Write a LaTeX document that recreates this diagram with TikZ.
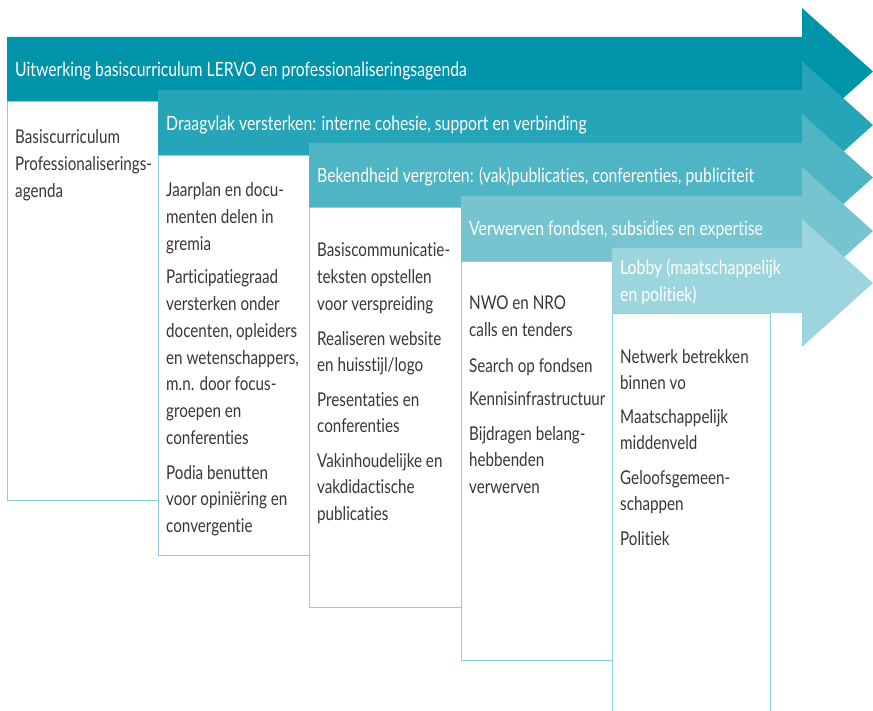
\documentclass[tikz,border=0pt]{standalone}
\usepackage{fontspec}
\setmainfont{Lato}[FakeStretch=0.8,Ligatures={NoCommon,NoDiscretionary}]
\definecolor{bA}{RGB}{0,148,170}
\definecolor{bB}{RGB}{38,164,184}
\definecolor{bC}{RGB}{79,180,196}
\definecolor{bD}{RGB}{118,196,208}
\definecolor{bE}{RGB}{157,213,222}
\definecolor{edge}{RGB}{140,207,218}
\definecolor{txt}{RGB}{55,55,55}
\tikzset{
  body/.style={inner sep=0pt, anchor=base west, text=txt, font=\fontsize{19}{26.7}\selectfont},
  head/.style={inner sep=0pt, anchor=base west, text=white, font=\fontsize{19.7}{27}\selectfont},
  boxline/.style={draw=edge, line width=0.9pt, fill=white},
}
\newcommand\para[4]{%
  \foreach \t [count=\i from 0] in {#4} {
    \node[body] (#1-\i) at (#2, #3+\i*26.7) {\t};
  }%
}
% banner: colour, left x, top y, bottom y
\newcommand\banner[4]{%
  \fill[#1] (#2,#3) -- (802,#3) -- (802,#3-29) -- (873,{(#3+#4)/2+2.5}) -- (802,#4+34) -- (802,#4) -- (#2,#4) -- cycle;
}
\begin{document}
\begin{tikzpicture}[x=1pt,y=-1pt]
\useasboundingbox (0,0) rectangle (873,711);
% boxes
\draw[boxline] (7,101) rectangle (158,500);
\draw[boxline] (158,155) rectangle (309,555);
\draw[boxline] (309,207) rectangle (461,607);
\draw[boxline] (461,261) rectangle (612,660);
\draw[boxline] (612,313) rectangle (770,730);
% banners
\banner{bA}{7}{37}{101}
\banner{bB}{158}{90}{155}
\banner{bC}{309}{143}{207}
\banner{bD}{461}{196}{261}
\banner{bE}{612}{248}{313}
% banner titles
\node[head] (t1) at (15,77) {Uitwerking basiscurriculum LERVO en professionaliseringsagenda};
\node[head] (t2) at (166,131) {Draagvlak versterken: interne cohesie, support en verbinding};
\node[head] (t3) at (317,183) {Bekendheid vergroten: (vak)publicaties, conferenties, publiciteit};
\node[head] (t4) at (469,236) {Verwerven fondsen, subsidies en expertise};
\node[head] (t5a) at (620,275) {Lobby (maatschappelijk};
\node[head] (t5b) at (620,302) {en politiek)};
% column 1
\para{a1}{15}{144}{Basiscurriculum,Professionaliserings-,agenda}
% column 2
\para{b1}{166}{197}{Jaarplan en docu-,menten delen in,gremia}
\para{b2}{166}{284}{Participatiegraad,versterken onder,{docenten, opleiders},{en wetenschappers,},m.n. door focus-,groepen en,conferenties}
\para{b3}{166}{479}{Podia benutten,voor opiniëring en,convergentie}
% column 3
\para{c1}{317}{257}{Basiscommunicatie-,teksten opstellen,voor verspreiding}
\para{c2}{317}{345}{Realiseren website,en huisstijl/logo}
\para{c3}{317}{406}{Presentaties en,conferenties}
\para{c4}{317}{467}{Vakinhoudelijke en,vakdidactische,publicaties}
% column 4
\para{d1}{469}{310}{NWO en NRO,calls en tenders}
\para{d2}{469}{372}{Search op fondsen}
\para{d3}{469}{405}{Kennisinfrastructuur}
\para{d4}{469}{440}{Bijdragen belang-,hebbenden,verwerven}
% column 5
\para{e1}{620}{363}{Netwerk betrekken,binnen vo}
\para{e2}{620}{423}{Maatschappelijk,middenveld}
\para{e3}{620}{484}{Geloofsgemeen-,schappen}
\para{e4}{620}{545}{Politiek}
\end{tikzpicture}
\end{document}
